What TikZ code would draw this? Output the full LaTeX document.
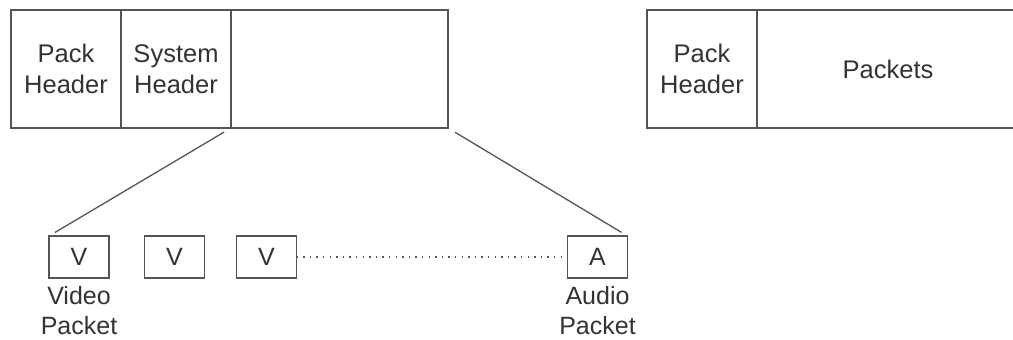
\documentclass[tikz,border=0pt]{standalone}
\usepackage{fontspec}
\setmainfont{Liberation Sans}
\usetikzlibrary{positioning}
\definecolor{linegray}{HTML}{555555}
\definecolor{textgray}{HTML}{333333}

\begin{document}
\begin{tikzpicture}[x=1pt,y=-1pt,
	field/.style={draw=linegray, line width=1.6pt, minimum height=118pt, inner sep=0pt, outer sep=0pt, align=center, text=textgray, font=\fontsize{25.5}{31}\selectfont},
	pkt/.style={draw=linegray, line width=1.3pt, minimum width=60pt, minimum height=42pt, inner sep=0pt, outer sep=0pt, text=textgray, font=\fontsize{25}{30}\selectfont},
	lbl/.style={align=center, text=textgray, inner sep=0pt, font=\fontsize{25}{30}\selectfont}]

	\useasboundingbox (0,0) rectangle (1013,340);%page

	\node[field, minimum width=110pt] (packhdr) at (66,69) {Pack\\Header};%pack header
	\node[field, minimum width=110pt, right=0pt of packhdr] (syshdr) {System\\Header};%system header
	\node[field, minimum width=217pt, right=0pt of syshdr] (payload) {};%packets

	\node[field, minimum width=110pt] (packhdr2) at (702,69) {Pack\\Header};%second pack
	\node[field, minimum width=262pt, right=0pt of packhdr2] (packets) {Packets};

	\node[pkt] (v1) at (79,257) {V};%packets below
	\node[pkt] (v2) at (174.5,257) {V};
	\node[pkt] (v3) at (266.5,257) {V};
	\node[pkt] (aud) at (597.5,257) {A};
	\node[lbl, below=8pt of v1] (vlbl) {Video\\Packet};
	\node[lbl, below=8pt of aud] (albl) {Audio\\Packet};

	\draw[linegray, line width=1.3pt, shorten <=8pt, shorten >=7pt] (payload.south west) -- (v1.north west);%zoom lines
	\draw[linegray, line width=1.3pt, shorten <=8pt, shorten >=7pt] (payload.south east) -- (aud.north east);
	\draw[linegray, line width=1.4pt, dash pattern=on 1.4pt off 5.2pt] (v3.east) -- (aud.west);%dots
\end{tikzpicture}
\end{document}
